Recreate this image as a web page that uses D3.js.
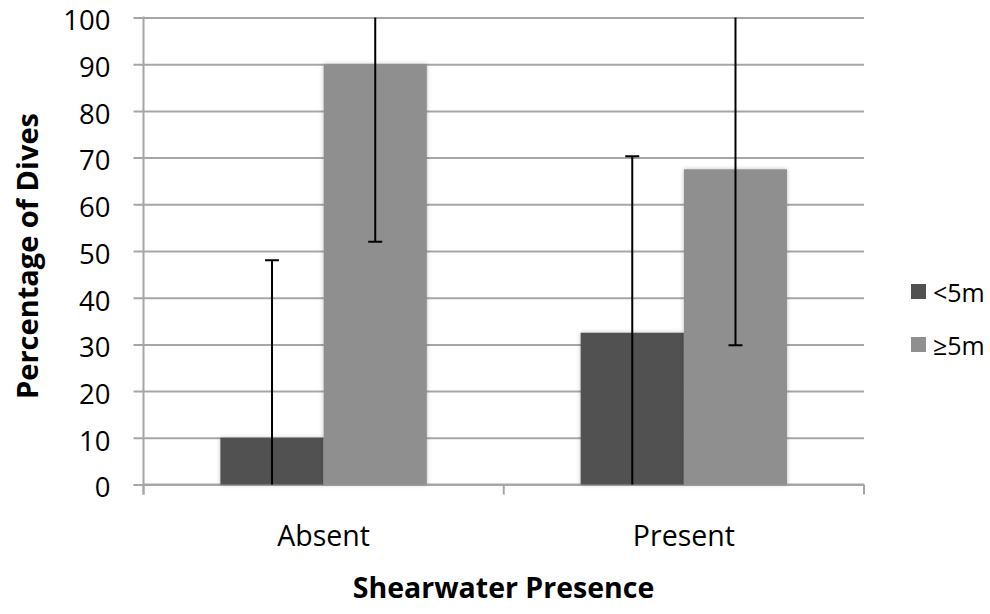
<!DOCTYPE html>
<html>
<head>
<meta charset="utf-8">
<script src="https://cdn.jsdelivr.net/npm/d3@7"></script>
<style>
  html, body { margin: 0; padding: 0; background: #fff; }
  svg { display: block; }
  text { font-family: "Open Sans", "Lato", sans-serif; fill: #000; }
</style>
</head>
<body>
<svg id="chart" width="990" height="614"></svg>
<script>
const categories = ["Absent", "Present"];
const seriesNames = ["<5m", "\u22655m"];
const lt5Values = [10, 32.5];
const ge5Values = [90, 67.5];
const lt5Errors = [38, 37.8];
const ge5Errors = [38, 37.7];
const yTicks = [0, 10, 20, 30, 40, 50, 60, 70, 80, 90, 100];
const seriesColors = ["#515151", "#8f8f8f"];

(function () {
const svg = d3.select("#chart");
const pL = 143.5, pR = 864, pT = 17.5, pB = 484.5;

const x = d3.scaleBand().domain(categories).range([pL, pR]).paddingInner(0).paddingOuter(0);
const xs = d3.scaleBand().domain(seriesNames).range([0, x.bandwidth()]).paddingInner(0).paddingOuter(0.745);
const y = d3.scaleLinear().domain([0, 100]).range([pB, pT]);
const color = d3.scaleOrdinal().domain(seriesNames).range(seriesColors);

const defs = svg.append("defs");
const f = defs.append("filter").attr("id", "shadow").attr("x", "-10%").attr("y", "-10%").attr("width", "120%").attr("height", "120%");
f.append("feDropShadow").attr("dx", 0).attr("dy", 0).attr("stdDeviation", 2).attr("flood-color", "#000").attr("flood-opacity", 0.25);
defs.append("clipPath").attr("id", "plotclip").append("rect")
  .attr("x", pL).attr("y", pT).attr("width", pR - pL).attr("height", pB - pT);

// gridlines + y axis
const yAxis = d3.axisLeft(y).tickValues(yTicks).tickSize(-(pR - pL)).tickSizeOuter(0).tickPadding(33);
const gy = svg.append("g").attr("transform", `translate(${pL},0)`).call(yAxis);
gy.select(".domain").remove();
gy.selectAll(".tick line").attr("stroke", "#a6a6a6").attr("stroke-width", 2).attr("x1", -10);
gy.selectAll(".tick text").style("font-size", "27.5px").style("font-family", "'Open Sans', sans-serif").attr("fill", "#000").attr("dy", "0.45em");

// vertical axis line
svg.append("line").attr("x1", pL).attr("x2", pL).attr("y1", pT - 1).attr("y2", pB + 10)
  .attr("stroke", "#a6a6a6").attr("stroke-width", 2);

// x axis
const xAxis = d3.axisBottom(x).tickSize(0).tickFormat("");
const gx = svg.append("g").attr("transform", `translate(0,${pB})`).call(xAxis);
gx.select(".domain").attr("stroke", "#a6a6a6").attr("stroke-width", 2).attr("d", `M${pL},0H${pR}`);
gx.selectAll(".tick").remove();
const boundaries = [pL].concat(categories.map(c => x(c) + x.bandwidth()));
gx.selectAll("line.sep").data(boundaries).enter().append("line")
  .attr("x1", d => d).attr("x2", d => d).attr("y1", 0).attr("y2", 10)
  .attr("stroke", "#a6a6a6").attr("stroke-width", 2);

// category labels
svg.selectAll("text.cat").data(categories).enter().append("text")
  .attr("class", "cat")
  .attr("x", d => x(d) + x.bandwidth() / 2)
  .attr("y", 546)
  .attr("text-anchor", "middle")
  .style("font-size", "28.5px")
  .text(d => d);

// bars
const rows = categories.map((c, i) => ({
  cat: c,
  vals: [
    { s: seriesNames[0], v: lt5Values[i], e: lt5Errors[i] },
    { s: seriesNames[1], v: ge5Values[i], e: ge5Errors[i] }
  ]
}));

const groups = svg.selectAll("g.grp").data(rows).enter().append("g")
  .attr("class", "grp").attr("transform", d => `translate(${x(d.cat)},0)`);

groups.selectAll("rect").data(d => d.vals).enter().append("rect")
  .attr("x", d => xs(d.s))
  .attr("y", d => y(d.v))
  .attr("width", xs.bandwidth())
  .attr("height", d => y(0) - y(d.v))
  .attr("fill", d => color(d.s))
  .attr("filter", "url(#shadow)");

// error bars
const eg = svg.append("g").attr("clip-path", "url(#plotclip)");
rows.forEach(r => {
  r.vals.forEach(d => {
    const cx = x(r.cat) + xs(d.s) + xs.bandwidth() / 2;
    const hi = d.v + d.e, lo = d.v - d.e;
    eg.append("line").attr("x1", cx).attr("x2", cx).attr("y1", y(hi)).attr("y2", y(lo))
      .attr("stroke", "#000").attr("stroke-width", 2);
    [hi, lo].forEach(v => {
      eg.append("line").attr("x1", cx - 7).attr("x2", cx + 7).attr("y1", y(v)).attr("y2", y(v))
        .attr("stroke", "#000").attr("stroke-width", 2);
    });
  });
});

// axis titles
svg.append("text")
  .attr("transform", "translate(38,256) rotate(-90)")
  .attr("text-anchor", "middle")
  .style("font-size", "29px").style("font-weight", "bold")
  .text("Percentage of Dives");

svg.append("text")
  .attr("x", 503.5).attr("y", 598)
  .attr("text-anchor", "middle")
  .style("font-size", "28.5px").style("font-weight", "bold")
  .text("Shearwater Presence");

// legend
const legend = svg.selectAll("g.leg").data(seriesNames).enter().append("g")
  .attr("class", "leg").attr("transform", (d, i) => `translate(911,${284 + i * 53})`);
legend.append("rect").attr("width", 15).attr("height", 15).attr("fill", d => color(d));
legend.append("text").attr("x", 22).attr("y", 18).style("font-size", "25px").text(d => d);
})();
</script>
</body>
</html>
